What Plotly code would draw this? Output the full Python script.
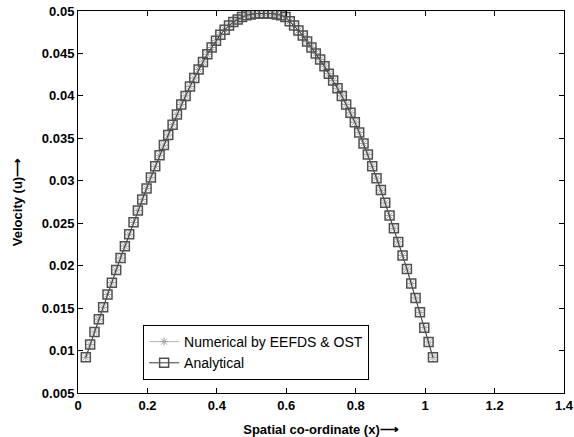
import plotly.graph_objects as go

x_vals = [0.0225, 0.035, 0.0475, 0.06, 0.0725, 0.085, 0.0975, 0.11, 0.1225, 0.135,
          0.1475, 0.16, 0.1725, 0.185, 0.1975, 0.21, 0.2225, 0.235, 0.2475, 0.26,
          0.2725, 0.285, 0.2975, 0.31, 0.3225, 0.335, 0.3475, 0.36, 0.3725, 0.385,
          0.3975, 0.41, 0.4225, 0.435, 0.4475, 0.46, 0.4725, 0.485, 0.4975, 0.51,
          0.5225, 0.535, 0.5475, 0.56, 0.5725, 0.585, 0.5975, 0.61, 0.6225, 0.635,
          0.6475, 0.66, 0.6725, 0.685, 0.6975, 0.71, 0.7225, 0.735, 0.7475, 0.76,
          0.7725, 0.785, 0.7975, 0.81, 0.8225, 0.835, 0.8475, 0.86, 0.8725, 0.885,
          0.8975, 0.91, 0.9225, 0.935, 0.9475, 0.96, 0.9725, 0.985, 0.9975, 1.01,
          1.0225]

u_analytical = [0.0092, 0.0107, 0.0122, 0.0137, 0.0151, 0.0166, 0.0180, 0.0195, 0.0209, 0.0223,
                0.0237, 0.0251, 0.0265, 0.0278, 0.0291, 0.0304, 0.0317, 0.0330, 0.0342, 0.0354,
                0.0366, 0.0378, 0.0390, 0.0400, 0.0411, 0.0421, 0.0431, 0.0440, 0.0449, 0.0457,
                0.0465, 0.0472, 0.0478, 0.0483, 0.0487, 0.0490, 0.0493, 0.0495, 0.0496, 0.0497,
                0.0497, 0.0497, 0.0497, 0.0497, 0.0496, 0.0495, 0.0493, 0.0488, 0.0483, 0.0477,
                0.0471, 0.0464, 0.0457, 0.0450, 0.0443, 0.0435, 0.0426, 0.0418, 0.0409, 0.0400,
                0.0390, 0.0380, 0.0369, 0.0357, 0.0344, 0.0331, 0.0317, 0.0303, 0.0289, 0.0274,
                0.0259, 0.0244, 0.0228, 0.0212, 0.0196, 0.0179, 0.0162, 0.0145, 0.0127, 0.0110,
                0.0092]

u_numerical = [0.0092, 0.0107, 0.0122, 0.0137, 0.0151, 0.0166, 0.0180, 0.0195, 0.0209, 0.0223,
               0.0237, 0.0251, 0.0265, 0.0278, 0.0291, 0.0304, 0.0317, 0.0330, 0.0342, 0.0354,
               0.0366, 0.0378, 0.0390, 0.0400, 0.0411, 0.0421, 0.0431, 0.0440, 0.0449, 0.0457,
               0.0465, 0.0472, 0.0478, 0.0483, 0.0487, 0.0490, 0.0493, 0.0495, 0.0496, 0.0497,
               0.0497, 0.0497, 0.0497, 0.0497, 0.0496, 0.0495, 0.0493, 0.0488, 0.0483, 0.0477,
               0.0471, 0.0464, 0.0457, 0.0450, 0.0443, 0.0435, 0.0426, 0.0418, 0.0409, 0.0400,
               0.0390, 0.0380, 0.0369, 0.0357, 0.0344, 0.0331, 0.0317, 0.0303, 0.0289, 0.0274,
               0.0259, 0.0244, 0.0228, 0.0212, 0.0196, 0.0179, 0.0162, 0.0145, 0.0127, 0.0110,
               0.0092]

series_names = ["Numerical by EEFDS & OST", "Analytical"]
x_title = "Spatial co-ordinate (x)⟶"
y_title = "Velocity (u)⟶"

bold_family = "Liberation Sans, Arial"
tick_font = dict(family=bold_family, size=13, color="black", weight="bold")
title_font = dict(family=bold_family, size=13, color="black", weight="bold")

fig = go.Figure()
fig.add_trace(go.Scatter(
    x=x_vals, y=u_numerical, name=series_names[0], mode="lines+markers",
    line=dict(color="#b8b8b8", width=1),
    marker=dict(symbol="asterisk-open", size=7, color="#a0a0a0",
                line=dict(color="#a0a0a0", width=1)),
))
fig.add_trace(go.Scatter(
    x=x_vals, y=u_analytical, name=series_names[1], mode="lines+markers",
    line=dict(color="#3a3a3a", width=1),
    marker=dict(symbol="square-open", size=9, color="#505050",
                line=dict(color="#505050", width=1.5)),
))

axis_common = dict(
    showgrid=False, zeroline=False, showline=True, linecolor="black", linewidth=1,
    mirror="allticks", ticks="inside", ticklen=5, tickcolor="black", tickwidth=1,
    tickfont=tick_font, ticklabeloverflow="allow", automargin=False,
)

fig.update_layout(
    width=574, height=437,
    margin=dict(l=78, r=10, t=11, b=44),
    paper_bgcolor="white", plot_bgcolor="white",
    showlegend=True,
    legend=dict(
        x=0.134, y=0.034, xanchor="left", yanchor="bottom",
        bgcolor="white", bordercolor="black", borderwidth=1,
        font=dict(family="Liberation Sans, Arial", size=14, color="black"),
        tracegroupgap=0, itemwidth=30,
    ),
    xaxis=dict(range=[0, 1.4], dtick=0.2, tick0=0,
               title=dict(text=x_title, standoff=15, font=title_font),
               **axis_common),
    yaxis=dict(range=[0.005, 0.05], dtick=0.005, tick0=0,
               title=dict(text=y_title, standoff=16, font=title_font),
               **axis_common),
)

fig.write_html(
    "out.html",
    config={"displayModeBar": False},
    post_script="document.body.style.margin='0';document.body.style.overflow='hidden';",
)
